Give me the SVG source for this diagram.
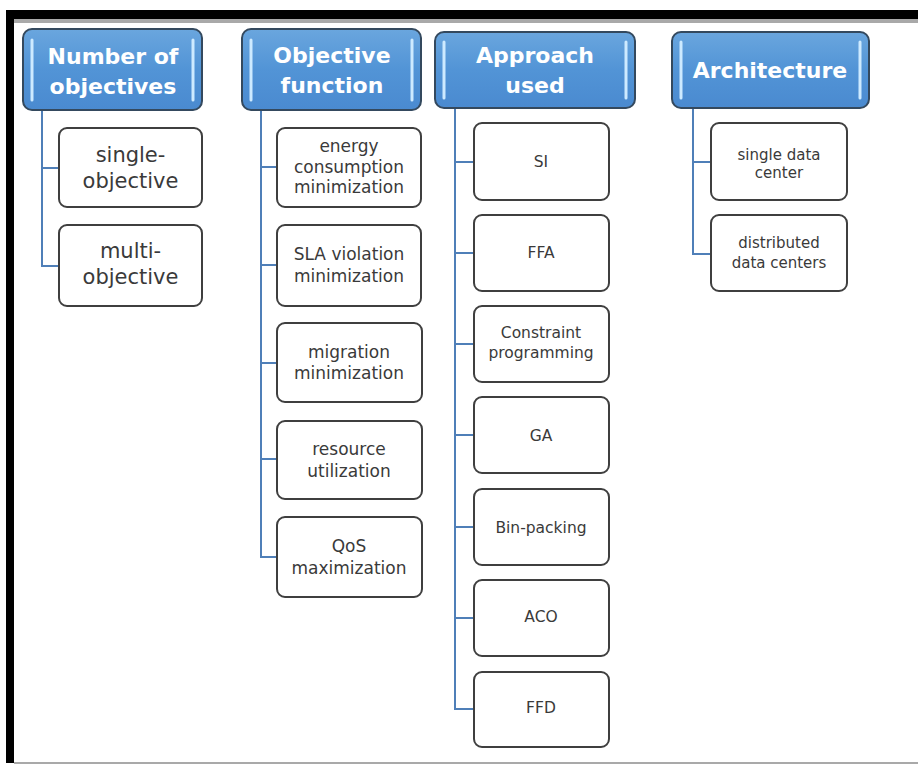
<svg xmlns="http://www.w3.org/2000/svg" width="918" height="764" viewBox="0 0 918 764">
<defs>
<linearGradient id="hg" x1="0" y1="0" x2="0" y2="1">
<stop offset="0" stop-color="#6aa6de"/>
<stop offset="0.5" stop-color="#5294d6"/>
<stop offset="1" stop-color="#4a8ad0"/>
</linearGradient>
</defs>
<style>
.hdr{fill:url(#hg);stroke:#34495e;stroke-width:2}
.bar{stroke:#cdeaff;stroke-width:3;stroke-linecap:round}
.ht{font-family:"DejaVu Sans","Open Sans",sans-serif;font-weight:bold;font-size:22px;fill:#ffffff;text-anchor:middle}
.box{fill:#ffffff;stroke:#3f3f3f;stroke-width:2}
.t{font-family:"DejaVu Sans","Open Sans",sans-serif;fill:#3a3a3a;text-anchor:middle}
.t1{font-size:21px}
.t2{font-size:17px}
.t3{font-size:15.5px}
.t4{font-size:15px}
.con{fill:none;stroke:#4f7fb8;stroke-width:2}
</style>
<rect x="0" y="0" width="918" height="764" fill="#ffffff"/>
<rect x="6" y="10" width="912" height="9" fill="#000000"/>
<rect x="6" y="10" width="8" height="753" fill="#000000"/>
<rect x="14" y="19" width="904" height="4" fill="#a9a9a9"/>
<rect x="14" y="762" width="904" height="2" fill="#a9a9a9"/>

<g id="connectors">
<path class="con" d="M42 111 V266 H59 M42 168 H59"/>
<path class="con" d="M261 111 V557 H277 M261 167 H277 M261 265 H277 M261 363 H277 M261 459 H277"/>
<path class="con" d="M455 108 V709 H473 M455 162 H473 M455 253 H473 M455 344 H473 M455 435 H473 M455 527 H473 M455 618 H473"/>
<path class="con" d="M693 108 V254 H711 M693 162 H711"/>
</g>

<g id="h1">
<rect class="hdr" x="23" y="29" width="179" height="81" rx="9"/>
<path class="bar" d="M32 40 V100 M193 40 V100"/>
<text class="ht" x="113" y="64">Number of</text>
<text class="ht" x="113" y="94">objectives</text>
</g>
<g id="h2">
<rect class="hdr" x="242" y="29" width="179" height="81" rx="9"/>
<path class="bar" d="M251 40 V100 M412 40 V100"/>
<text class="ht" x="332" y="63">Objective</text>
<text class="ht" x="332" y="93">function</text>
</g>
<g id="h3">
<rect class="hdr" x="435" y="32" width="200" height="76" rx="9"/>
<path class="bar" d="M444 42 V98 M626 42 V98"/>
<text class="ht" x="535" y="63">Approach</text>
<text class="ht" x="535" y="93">used</text>
</g>
<g id="h4">
<rect class="hdr" x="672" y="32" width="197" height="76" rx="9"/>
<path class="bar" d="M681 42 V98 M860 42 V98"/>
<text class="ht" x="770" y="78">Architecture</text>
</g>

<g id="n-single-objective">
<rect class="box" x="59" y="128" width="143" height="79" rx="8"/>
<text class="t t1" x="130.5" y="162">single-</text>
<text class="t t1" x="130.5" y="188">objective</text>
</g>
<g id="n-multi-objective">
<rect class="box" x="59" y="225" width="143" height="81" rx="8"/>
<text class="t t1" x="130.5" y="258">multi-</text>
<text class="t t1" x="130.5" y="284">objective</text>
</g>

<g id="n-energy">
<rect class="box" x="277" y="128" width="144" height="79" rx="8"/>
<text class="t t2" x="349" y="152">energy</text>
<text class="t t2" x="349" y="173">consumption</text>
<text class="t t2" x="349" y="193">minimization</text>
</g>
<g id="n-sla">
<rect class="box" x="277" y="225" width="144" height="81" rx="8"/>
<text class="t t2" x="349" y="260">SLA violation</text>
<text class="t t2" x="349" y="282">minimization</text>
</g>
<g id="n-migration">
<rect class="box" x="277" y="323" width="145" height="79" rx="8"/>
<text class="t t2" x="349" y="358">migration</text>
<text class="t t2" x="349" y="379">minimization</text>
</g>
<g id="n-resource">
<rect class="box" x="277" y="421" width="145" height="78" rx="8"/>
<text class="t t2" x="349" y="455">resource</text>
<text class="t t2" x="349" y="477">utilization</text>
</g>
<g id="n-qos">
<rect class="box" x="277" y="517" width="145" height="80" rx="8"/>
<text class="t t2" x="349" y="552">QoS</text>
<text class="t t2" x="349" y="574">maximization</text>
</g>

<g id="n-si">
<rect class="box" x="474" y="123" width="135" height="77" rx="8"/>
<text class="t t3" x="541" y="167">SI</text>
</g>
<g id="n-ffa">
<rect class="box" x="474" y="215" width="135" height="76" rx="8"/>
<text class="t t3" x="541" y="258">FFA</text>
</g>
<g id="n-constraint">
<rect class="box" x="474" y="306" width="135" height="76" rx="8"/>
<text class="t t3" x="541" y="338">Constraint</text>
<text class="t t3" x="541" y="358">programming</text>
</g>
<g id="n-ga">
<rect class="box" x="474" y="397" width="135" height="76" rx="8"/>
<text class="t t3" x="541" y="441">GA</text>
</g>
<g id="n-bin">
<rect class="box" x="474" y="489" width="135" height="76" rx="8"/>
<text class="t t3" x="541" y="533">Bin-packing</text>
</g>
<g id="n-aco">
<rect class="box" x="474" y="580" width="135" height="76" rx="8"/>
<text class="t t3" x="541" y="622">ACO</text>
</g>
<g id="n-ffd">
<rect class="box" x="474" y="672" width="135" height="75" rx="8"/>
<text class="t t3" x="541" y="713">FFD</text>
</g>

<g id="n-single-dc">
<rect class="box" x="711" y="123" width="136" height="77" rx="8"/>
<text class="t t4" x="779" y="160">single data</text>
<text class="t t4" x="779" y="178">center</text>
</g>
<g id="n-distributed">
<rect class="box" x="711" y="215" width="136" height="76" rx="8"/>
<text class="t t4" x="779" y="248">distributed</text>
<text class="t t4" x="779" y="268">data centers</text>
</g>
</svg>
